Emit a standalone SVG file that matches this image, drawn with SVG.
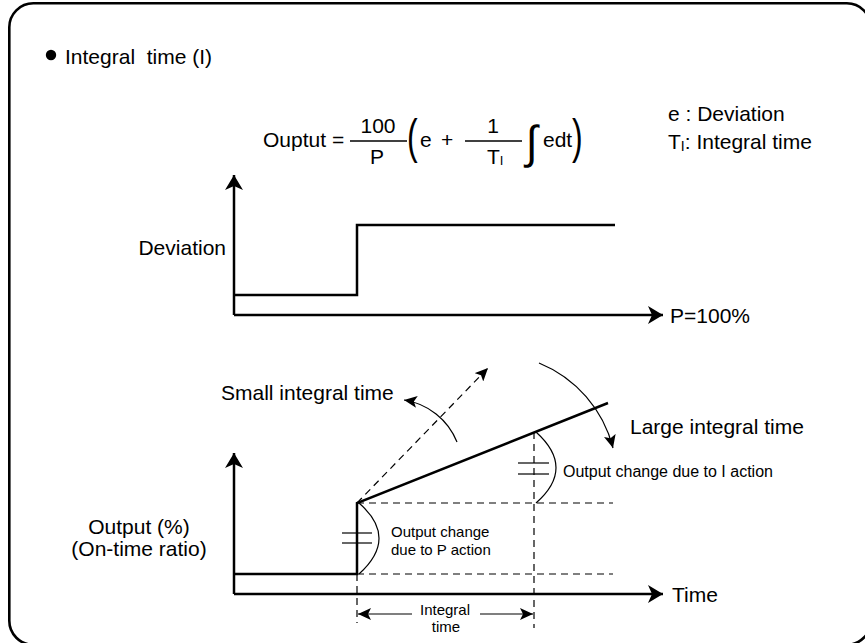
<svg xmlns="http://www.w3.org/2000/svg" width="865" height="643" viewBox="0 0 865 643">
<style>
text{font-family:"Liberation Sans",Arial,sans-serif;fill:#000}
.big{font-size:21px}
.sm{font-size:15px}
.thick{fill:none;stroke:#000;stroke-width:2.5}
.thin{fill:none;stroke:#000;stroke-width:1.2}
.dash{fill:none;stroke:#000;stroke-width:1.2;stroke-dasharray:7 5}
.mid{text-anchor:middle}
</style>
<defs>
<marker id="ahBig" markerUnits="userSpaceOnUse" markerWidth="16" markerHeight="18" viewBox="0 0 16 18" refX="15" refY="9" orient="auto"><path d="M0,0 L15,9 L0,18 L4,9 Z" fill="#000" stroke="none"/></marker>
<marker id="ahMid" markerUnits="userSpaceOnUse" markerWidth="14" markerHeight="12" viewBox="0 0 14 12" refX="13" refY="6" orient="auto"><path d="M0,0 L13,6 L0,12 L3,6 Z" fill="#000" stroke="none"/></marker>
</defs>
<rect id="frame" x="9.3" y="3.3" width="861.5" height="641.5" rx="24" ry="24" fill="#fff" stroke="#000" stroke-width="2.6"/>
<g id="title">
<circle cx="51" cy="55" r="5.2" fill="#000"/>
<text class="big" x="65" y="64" style="white-space:pre">Integral  time (I)</text>
</g>
<g id="formula">
<text class="big" x="263" y="147">Ouptut =</text>
<text class="big mid" x="378" y="133">100</text>
<line x1="350" y1="141" x2="407" y2="141" stroke="#000" stroke-width="1.3"/>
<text class="big mid" x="377" y="164">P</text>
<text transform="translate(407,153) scale(1,1.5)" style="font-size:32px">(</text>
<text class="big" x="420" y="147">e</text>
<text class="big" x="441" y="147">+</text>
<line x1="465" y1="141" x2="522" y2="141" stroke="#000" stroke-width="1.3"/>
<text class="big mid" x="493" y="133">1</text>
<text class="big" x="487" y="164">T<tspan style="font-size:13px" dy="1">I</tspan></text>
<text transform="translate(526,158) scale(1.25,1.35)" style="font-size:34px">∫</text>
<text class="big" x="543" y="147">edt</text>
<text transform="translate(572,153) scale(1,1.5)" style="font-size:32px">)</text>
</g>
<g id="legend">
<text class="big" x="668" y="121">e : Deviation</text>
<text class="big" x="668" y="149">T<tspan style="font-size:14px" dy="2">I</tspan><tspan dy="-2">: Integral time</tspan></text>
</g>
<g id="deviation-chart">
<text class="big" x="226" y="255" text-anchor="end">Deviation</text>
<text class="big" x="670" y="323">P=100%</text>
</g>
<g id="output-chart">
<text class="big mid" x="139" y="534">Output (%)</text>
<text class="big mid" x="139" y="556">(On-time ratio)</text>
<text class="big" x="221" y="400">Small integral time</text>
<text class="big" x="630" y="434">Large integral time</text>
<text class="big" x="672" y="602">Time</text>
<text class="sm" x="391" y="537">Output change</text>
<text class="sm" x="391" y="555">due to P action</text>
<text style="font-size:16px" x="563" y="477">Output change due to I action</text>
<text class="sm mid" x="445" y="615">Integral</text>
<text class="sm mid" x="446" y="632">time</text>
</g>
<g id="connectors">
<path class="thick" d="M234,315 L234,175" marker-end="url(#ahBig)"/>
<path class="thick" d="M234,315 L663,315" marker-end="url(#ahBig)"/>
<polyline class="thick" points="234,295 357,295 357,225 615,225"/>
<path class="thick" d="M234,594 L234,453" marker-end="url(#ahBig)"/>
<path class="thick" d="M234,594 L663,594" marker-end="url(#ahBig)"/>
<polyline class="thick" points="234,574 357,574 357,503 608,403"/>
<path class="dash" d="M357,503 L488,368" marker-end="url(#ahMid)"/>
<line class="dash" x1="357" y1="503" x2="613" y2="503"/>
<line class="dash" x1="357" y1="574" x2="613" y2="574"/>
<line class="dash" x1="357" y1="574" x2="357" y2="623"/>
<line class="dash" x1="534" y1="432" x2="534" y2="628"/>
<path class="thin" d="M412,614 L358,614" marker-end="url(#ahMid)"/>
<path class="thin" d="M480,614 L533,614" marker-end="url(#ahMid)"/>
<line class="thin" x1="342" y1="533" x2="372" y2="533"/>
<line class="thin" x1="342" y1="543" x2="372" y2="543"/>
<path class="thin" d="M359,503 Q399,538 359,574"/>
<line class="thin" x1="518" y1="463" x2="549" y2="463"/>
<line class="thin" x1="518" y1="474" x2="549" y2="474"/>
<path class="thin" d="M536,432 Q576,468 536,503"/>
<path class="thin" d="M539,363 A125,125 0 0 1 613,448" marker-end="url(#ahMid)"/>
<path class="thin" d="M457,442 A68,68 0 0 0 404,400" marker-end="url(#ahMid)"/>
</g>
</svg>
